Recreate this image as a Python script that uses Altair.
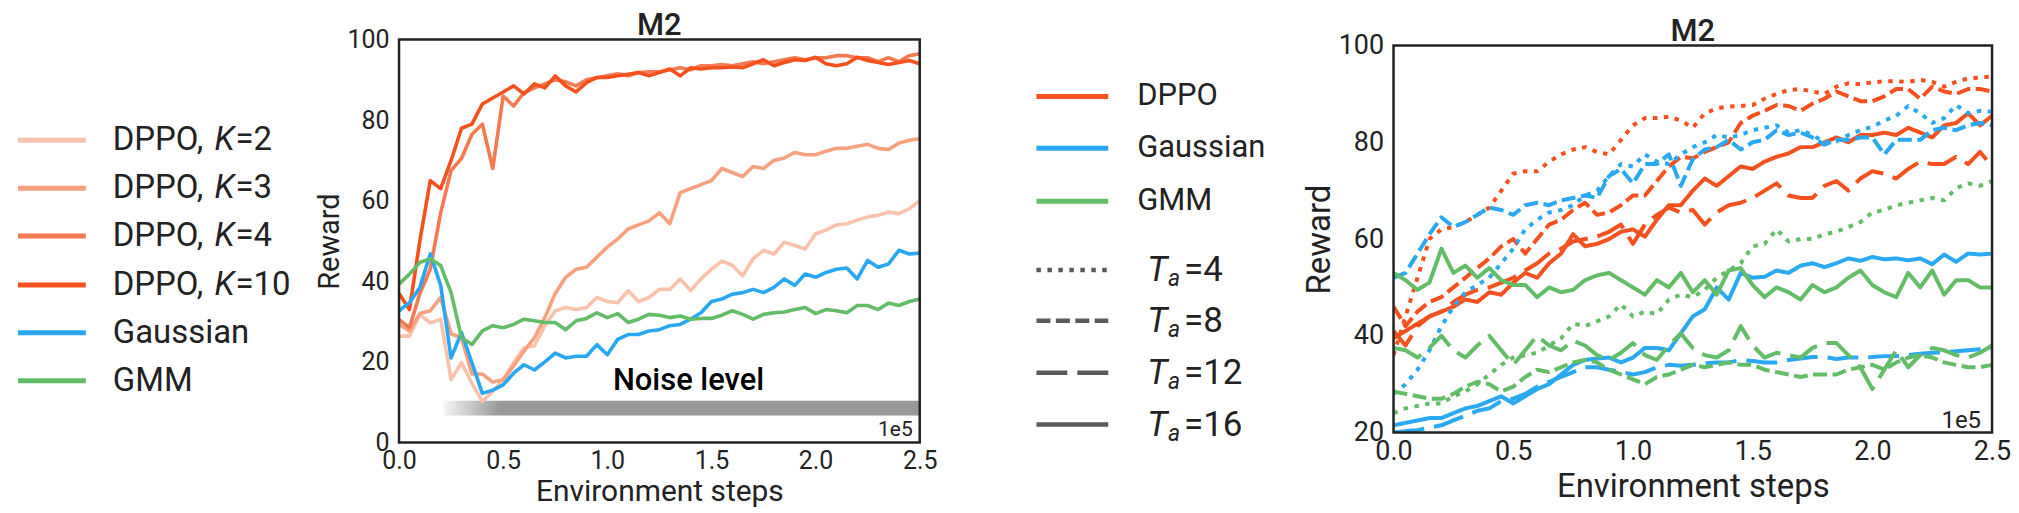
import altair as alt
import pandas as pd

# ---------------- data ----------------
STEPS = [round(0.05 * i, 2) for i in range(51)]
X_TICKS = [0.0, 0.5, 1.0, 1.5, 2.0, 2.5]
LEFT_Y_TICKS = [0, 20, 40, 60, 80, 100]
RIGHT_Y_TICKS = [20, 40, 60, 80, 100]
PANEL_TITLE = "M2"

LEFT_SERIES = ["DPPO, K=2", "DPPO, K=3", "DPPO, K=4", "DPPO, K=10", "Gaussian", "GMM"]
LEFT_COLORS = ["#fbc2ab", "#f9a07e", "#f47a52", "#f4511e", "#29a7f2", "#63bd67"]

K2 = [26.4, 26.4, 31.8, 29.7, 30.6, 15.6, 19.8, 14.7, 10.2, 12.7,
      15.6, 19.8, 23.5, 24, 29, 32.7, 33.5, 33, 33.5, 36,
      35, 34.7, 37.7, 35, 36, 38, 38, 40.6, 37.7, 40.6,
      43, 45, 44, 41.4, 45.6, 47.7, 46.8, 49.7, 48.9, 48,
      51.8, 52.7, 54, 54.3, 55.2, 56, 56.4, 57.2, 56.8, 58,
      60]
K3 = [29.3, 27.7, 32, 32.7, 36, 27, 26, 17, 17, 15,
      15.6, 19, 22.7, 26, 31, 37, 41, 43, 43.5, 46,
      48.5, 50.5, 53, 54, 55, 57, 54.3, 62, 63, 64,
      65, 68, 67, 66, 68.5, 68, 70, 70.6, 72, 71.4,
      71.4, 72.3, 73, 73, 73.5, 74, 73, 72.7, 74.3, 75,
      75.4]
K4 = [30.5, 28.5, 37, 43, 57, 67.5, 70.5, 76.5, 79, 68,
      86, 83.5, 86.8, 88, 89, 90, 89.5, 88.5, 90, 90.5,
      91, 91.5, 91, 91.8, 92, 92, 92.5, 93, 92.5, 93.5,
      93.5, 93.8, 93.5, 94, 94.5, 94, 94.5, 95, 95.5, 95,
      95.5, 95.5, 96, 96, 95.5, 95.5, 94.5, 95.5, 94.5, 96,
      96.5]
K10 = [37, 33, 50, 65, 63, 70, 78, 79, 84, 85.5,
       87, 88.5, 86.5, 89, 88, 91, 88.5, 87, 89.3, 90.6,
       90.6, 91, 91.4, 91.8, 91, 91.8, 92.7, 91, 93, 92.7,
       93, 93, 93.2, 93, 94, 95, 93.5, 94.3, 95, 94.8,
       95.6, 94, 93.5, 94, 95.6, 94.8, 94.3, 93.8, 94.3, 94.8,
       94]
GAUSS = [32.7, 34.7, 38.5, 46.8, 39, 21, 27.3, 19.8, 12.2, 13,
         14.3, 17.2, 19.3, 18, 20, 22.2, 21, 21.4, 21.4, 24.3,
         21.8, 25.6, 26.8, 26.8, 27.7, 28, 29, 29.3, 30.6, 32.2,
         35, 35.6, 36.8, 37.2, 38, 37.2, 38.5, 40.6, 39, 41.8,
         41, 42.2, 43, 43.3, 40.6, 45.2, 43.5, 44.3, 47.7, 46.8,
         47]
GMM = [39.3, 41.8, 44.7, 45.6, 43.9, 37.2, 26, 24.3, 27.7, 29,
       28.5, 29.3, 30.6, 30.2, 29.8, 29.8, 28, 30.2, 30.8, 32.2,
       31, 32, 29.8, 30.6, 31.8, 31.6, 31, 31.4, 30.6, 30.8,
       30.8, 31.6, 32.7, 31.8, 30.6, 31.8, 32.2, 32.4, 33, 33.5,
       32, 33, 32.7, 32.2, 34, 34, 33, 34.6, 34, 35,
       35.6]
LEFT_VALUES = [K2, K3, K4, K10, GAUSS, GMM]

METHODS = ["DPPO", "Gaussian", "GMM"]
METHOD_COLORS = ["#f4511e", "#2aa8f2", "#63bd67"]
TA_LABELS = ["4", "8", "12", "16"]

DPPO_T4 = [36, 44, 52, 60, 62, 62.5, 63.5, 65, 66.5, 70,
           73.5, 74, 74, 76, 77.5, 78.5, 79, 78, 77.5, 80.5,
           83.5, 85, 85, 85.3, 84.5, 83, 86, 87, 87.4, 87.5,
           87.7, 89, 90, 90.8, 91, 90.5, 90, 91.5, 92.2, 92,
           92.4, 92.6, 92.6, 92.5, 92.9, 92.5, 91.5, 92.5, 93.2, 93.4,
           93.6]
DPPO_T8 = [46, 42, 45, 47, 48, 50, 52, 54, 56, 58.5,
           60, 57, 60, 63, 64, 66, 67.5, 65, 65.5, 67,
           69, 69, 72, 75, 77, 76.7, 78, 79, 80, 84,
           85.5, 86.5, 87.7, 87.5, 86.5, 88, 89, 90.5, 89.5, 88.5,
           88.5, 89.5, 91, 91, 89, 91.5, 90.5, 90, 91, 91,
           90.5]
DPPO_T12 = [41, 38, 42, 44, 45, 47, 48.5, 49.5, 50, 51,
            52, 53.5, 55, 57, 58, 59.5, 60, 60.5, 61.5, 63,
            59, 63, 65, 66.5, 65.5, 66, 63, 65.5, 67, 67.5,
            68.5, 70, 71.5, 69, 68.5, 68.5, 71, 72, 70, 72.5,
            74, 73.5, 72.5, 74.5, 76, 75.5, 75.5, 77, 75.5, 78,
            75]
DPPO_T16 = [39.5, 41, 42.5, 44, 45, 46, 47.5, 47, 49, 48.5,
            51, 53, 52, 55, 57, 61, 58.5, 59, 60, 61.5,
            62, 60.5, 64, 67, 67, 70, 72.5, 71, 73, 75,
            74.5, 76, 77, 77.7, 79, 79, 80, 81, 80, 81.5,
            81.5, 82, 81.5, 83, 82, 81, 83.5, 84, 86, 83.5,
            85.5]
GAUSS_T4 = [28, 30, 33, 37, 42, 46, 49, 50.5, 52, 55,
            58, 62, 64, 65.5, 66, 67, 69, 70, 73, 75.5,
            75, 77.5, 76, 75.5, 77.5, 79, 80, 81.5, 81, 81.5,
            82.5, 83, 83.5, 82, 82.5, 81.5, 80, 80.2, 81.5, 82.5,
            83.2, 84.5, 85.5, 87.5, 86, 84, 85, 87.7, 86, 86.5,
            86.3]
GAUSS_T8 = [52, 53, 57, 61, 64.5, 62.5, 63.5, 65, 66.5, 66,
            65, 67, 67.5, 67, 68, 68.5, 69, 68.5, 73, 74.5,
            71.5, 75.5, 75.5, 77.5, 71, 76.5, 78.5, 79, 80.5, 78.5,
            80, 80.5, 82.5, 81.5, 82, 81, 79.5, 80.5, 80.5, 81,
            81, 77.5, 80.5, 80.5, 80.5, 82.5, 83, 82.5, 83.5, 84,
            83.5]
GAUSS_T12 = [20, 20.3, 20.5, 21, 21.5, 22.5, 23.5, 24.5, 25, 26.5,
             27, 28, 29.5, 30.5, 31.5, 32.5, 33.5, 33.5, 33, 32.5,
             32, 32.5, 33.5, 34, 33.8, 34, 34.3, 34.5, 34.5, 35,
             34.8, 34.5, 34.5, 35, 35.3, 35.6, 35.6, 35.2, 35.5, 35.5,
             35.6, 35.8, 35.8, 36, 36.3, 36.5, 36.6, 36.8, 37, 37.2,
             37.3]
GAUSS_T16 = [21.5, 22, 22.5, 23, 23, 24, 25, 25.5, 26.5, 27.5,
             26, 27.5, 29, 30, 32, 34, 35, 35.3, 35.5, 34.5,
             35.5, 37.5, 37.5, 37, 40.5, 44, 45.5, 50, 47.5, 53,
             52, 52.2, 53.5, 53, 54.5, 55, 54.2, 55, 56, 55.5,
             56.3, 55.8, 56, 55.6, 56, 54.8, 56.8, 55.3, 57, 56.8,
             57]
GMM_T4 = [24, 25, 25.5, 26, 26, 27.5, 28.5, 30, 32, 34,
          35.5, 36, 36.5, 38, 39.5, 42.5, 42, 43, 44, 46.5,
          44, 45, 44.5, 47.5, 48.5, 48, 49.5, 52, 53.5, 55,
          58.5, 59, 62, 59.5, 60, 60, 61, 61.5, 62.5, 63.5,
          65.5, 66, 67, 67.5, 68, 68.5, 68, 70.5, 71.5, 71,
          72]
GMM_T8 = [28.5, 28, 27.5, 27, 27, 28, 29.5, 30.5, 30, 28.5,
          29.5, 31.5, 33, 32.5, 33.5, 34.5, 35, 34.5, 33, 32,
          31, 30, 31.5, 32, 33, 34, 33.5, 34, 34.5, 34,
          34, 33, 32.5, 32, 31.5, 32, 32, 32, 33, 33.5,
          34, 33, 34.5, 35.5, 36, 35.5, 34.5, 34, 33.5, 33.5,
          34]
GMM_T12 = [37.5, 37, 35.5, 37.5, 40, 37, 35.5, 38, 40, 37,
           34, 37, 40, 38, 37, 39, 38, 36, 35, 36.5,
           38.5, 36, 35, 38, 40.5, 37.5, 36, 35.5, 37, 42,
           38, 35.5, 36.5, 36, 35.5, 37.5, 38.5, 38.5, 36, 33.5,
           29, 33, 37, 33.5, 36, 37.5, 37, 36, 35.5, 36.5,
           38]
GMM_T16 = [53, 51.5, 49.5, 51, 58, 53, 54.5, 52, 54, 51.5,
           50.5, 50.5, 48, 50, 49, 49.5, 51.5, 52.5, 53, 51.5,
           50, 48.5, 51.5, 50, 53, 49, 51.5, 48.5, 53.5, 54,
           50.5, 48, 50, 49, 47.5, 50.5, 49, 50, 52, 53.5,
           50.5, 49, 48, 53, 50, 53.5, 48.5, 51.5, 51.5, 50,
           50]
RIGHT_VALUES = {
    ("DPPO", "4"): DPPO_T4, ("DPPO", "8"): DPPO_T8,
    ("DPPO", "12"): DPPO_T12, ("DPPO", "16"): DPPO_T16,
    ("Gaussian", "4"): GAUSS_T4, ("Gaussian", "8"): GAUSS_T8,
    ("Gaussian", "12"): GAUSS_T12, ("Gaussian", "16"): GAUSS_T16,
    ("GMM", "4"): GMM_T4, ("GMM", "8"): GMM_T8,
    ("GMM", "12"): GMM_T12, ("GMM", "16"): GMM_T16,
}

NOISE_X = [0.215, 0.48, 2.5]      # ramp start, ramp end, bar end
NOISE_Y = [6.7, 10.4]
NOISE_LABEL_AT = [1.39, 13.1]

# ---------------- styles / layout ----------------
FONT = "Roboto"
INK = "#222222"
TA_DASHES = [[4.5, 6.5], [14, 5.5], [31, 10], [1, 0]]
LEG_GRAY = "#5a5a5a"

L_W, L_H = 522, 404
R_W, R_H = 600, 394
R_TOP = 6

LEG1_Y = [101, 149, 197, 246, 294, 342]
LEG1_LINE = (-382, -314)
LEG1_TEXT = -287
LEG1_K = -185
LEG1_EQ = -164

LEG2_Y = [57, 109, 162, 231, 282, 334, 386]
LEG2_LINE = (-358, -286)
LEG2_TEXT = -257
LEG2_T = -247
LEG2_A = -226
LEG2_EQ = -210

ONE = alt.Data(values=[{}])

# ---------------- tables ----------------
left_rows = []
for name, vals in zip(LEFT_SERIES, LEFT_VALUES):
    for s, v in zip(STEPS, vals):
        left_rows.append({"series": name, "step": s, "reward": v})
left_df = pd.DataFrame(left_rows)

right_rows = []
for (m, ta), vals in RIGHT_VALUES.items():
    for s, v in zip(STEPS, vals):
        right_rows.append({"method": m, "Ta": ta, "step": s, "reward": v})
right_df = pd.DataFrame(right_rows)


def title_mark(xpix, ypix):
    return alt.Chart(ONE).mark_text(
        font=FONT, fontSize=31, fontWeight=500, color=INK,
        align="center", baseline="alphabetic"
    ).encode(x=alt.value(xpix), y=alt.value(ypix), text=alt.value(PANEL_TITLE))


# ---------------- left panel ----------------
lx = alt.X("step:Q", scale=alt.Scale(domain=[0, 2.5], nice=False, zero=False),
           axis=alt.Axis(values=X_TICKS, format=".1f", labelFontSize=25, labelPadding=6,
                         title="Environment steps", titleFontSize=30, titlePadding=3))
ly = alt.Y("reward:Q", scale=alt.Scale(domain=[0, 100], nice=False),
           axis=alt.Axis(values=LEFT_Y_TICKS, labelFontSize=25, labelPadding=10,
                         title="Reward", titleFontSize=29, titlePadding=3))

ramp = (NOISE_X[1] - NOISE_X[0]) / (NOISE_X[2] - NOISE_X[0])
noise_bar = alt.Chart(ONE).mark_rect(
    fill=alt.Gradient(gradient="linear", x1=0, x2=1, y1=0, y2=0,
                      stops=[alt.GradientStop(color="#f4f4f4", offset=0),
                             alt.GradientStop(color="#999999", offset=ramp),
                             alt.GradientStop(color="#999999", offset=1)])
).encode(x=alt.datum(NOISE_X[0]), x2=alt.datum(NOISE_X[2]),
         y=alt.datum(NOISE_Y[0]), y2=alt.datum(NOISE_Y[1]))

noise_txt = alt.Chart(ONE).mark_text(
    font=FONT, fontSize=31, fontWeight=500, color="#000000",
    align="center", baseline="alphabetic"
).encode(x=alt.datum(NOISE_LABEL_AT[0]), y=alt.datum(NOISE_LABEL_AT[1]),
         text=alt.value("Noise level"))

left_lines = alt.Chart(left_df).mark_line(strokeWidth=3.6, strokeJoin="round").encode(
    x=lx, y=ly,
    color=alt.Color("series:N", scale=alt.Scale(domain=LEFT_SERIES, range=LEFT_COLORS), legend=None),
)

frame_l = alt.Chart(ONE).mark_rect(fillOpacity=0, stroke=INK, strokeWidth=2.5).encode(
    x=alt.datum(0.0), x2=alt.datum(2.5), y=alt.datum(0), y2=alt.datum(100))

exp_l = alt.Chart(ONE).mark_text(font=FONT, fontSize=21, color=INK, align="right",
                                 baseline="alphabetic", dx=-7, dy=-7).encode(
    x=alt.datum(2.5), y=alt.datum(0), text=alt.value("1e5"))

leg1 = []
for i, (name, col) in enumerate(zip(LEFT_SERIES, LEFT_COLORS)):
    yy = LEG1_Y[i]
    leg1.append(alt.Chart(ONE).mark_rule(strokeWidth=5, color=col, strokeCap="butt").encode(
        x=alt.value(LEG1_LINE[0]), x2=alt.value(LEG1_LINE[1]), y=alt.value(yy)))
    if name.startswith("DPPO"):
        base, kpart = name.split(", ")
        leg1.append(alt.Chart(ONE).mark_text(font=FONT, fontSize=33, color=INK, align="left",
                                             baseline="middle").encode(
            x=alt.value(LEG1_TEXT), y=alt.value(yy), text=alt.value(base + ",")))
        leg1.append(alt.Chart(ONE).mark_text(font=FONT, fontSize=33, color=INK, align="left",
                                             baseline="middle", fontStyle="italic").encode(
            x=alt.value(LEG1_K), y=alt.value(yy), text=alt.value("K")))
        leg1.append(alt.Chart(ONE).mark_text(font=FONT, fontSize=33, color=INK, align="left",
                                             baseline="middle").encode(
            x=alt.value(LEG1_EQ), y=alt.value(yy), text=alt.value(kpart[1:])))
    else:
        leg1.append(alt.Chart(ONE).mark_text(font=FONT, fontSize=33, color=INK, align="left",
                                             baseline="middle").encode(
            x=alt.value(LEG1_TEXT), y=alt.value(yy), text=alt.value(name)))

left = alt.layer(noise_bar, left_lines, noise_txt, frame_l, exp_l,
                 title_mark(L_W / 2, -5), *leg1).properties(width=L_W, height=L_H)

# ---------------- right panel ----------------
rx = alt.X("step:Q", scale=alt.Scale(domain=[0, 2.5], nice=False, zero=False),
           axis=alt.Axis(values=X_TICKS, format=".1f", labelFontSize=27, labelPadding=6,
                         title="Environment steps", titleFontSize=33, titlePadding=6))
ry = alt.Y("reward:Q", scale=alt.Scale(domain=[20, 100], range=[R_H, R_TOP], nice=False, zero=False),
           axis=alt.Axis(values=RIGHT_Y_TICKS, labelFontSize=27, labelPadding=10,
                         title="Reward", titleFontSize=33, titlePadding=2))

right_lines = alt.Chart(right_df).mark_line(strokeWidth=4, strokeJoin="round", clip=True).encode(
    x=rx, y=ry,
    color=alt.Color("method:N", scale=alt.Scale(domain=METHODS, range=METHOD_COLORS), legend=None),
    strokeDash=alt.StrokeDash("Ta:N", scale=alt.Scale(domain=TA_LABELS, range=TA_DASHES), legend=None),
)

frame_r = alt.Chart(ONE).mark_rect(fillOpacity=0, stroke=INK, strokeWidth=2.5).encode(
    x=alt.datum(0.0), x2=alt.datum(2.5), y=alt.datum(20), y2=alt.datum(100))

exp_r = alt.Chart(ONE).mark_text(font=FONT, fontSize=24, color=INK, align="right",
                                 baseline="alphabetic", dx=-11, dy=-5).encode(
    x=alt.datum(2.5), y=alt.datum(20), text=alt.value("1e5"))

leg2 = []
for i, (m, col) in enumerate(zip(METHODS, METHOD_COLORS)):
    yy = LEG2_Y[i]
    leg2.append(alt.Chart(ONE).mark_rule(strokeWidth=5, color=col, strokeCap="butt").encode(
        x=alt.value(LEG2_LINE[0]), x2=alt.value(LEG2_LINE[1]), y=alt.value(yy)))
    leg2.append(alt.Chart(ONE).mark_text(font=FONT, fontSize=31, color=INK, align="left",
                                         baseline="middle").encode(
        x=alt.value(LEG2_TEXT), y=alt.value(yy), text=alt.value(m)))
for j, (ta, dash) in enumerate(zip(TA_LABELS, TA_DASHES)):
    yy = LEG2_Y[3 + j]
    leg2.append(alt.Chart(ONE).mark_rule(strokeWidth=4.5, color=LEG_GRAY, strokeCap="butt",
                                         strokeDash=dash).encode(
        x=alt.value(LEG2_LINE[0]), x2=alt.value(LEG2_LINE[1]), y=alt.value(yy)))
    leg2.append(alt.Chart(ONE).mark_text(font=FONT, fontSize=35, color=INK, align="left",
                                         baseline="middle", fontStyle="italic").encode(
        x=alt.value(LEG2_T), y=alt.value(yy), text=alt.value("T")))
    leg2.append(alt.Chart(ONE).mark_text(font=FONT, fontSize=23, color=INK, align="left",
                                         baseline="middle", fontStyle="italic", dy=9).encode(
        x=alt.value(LEG2_A), y=alt.value(yy), text=alt.value("a")))
    leg2.append(alt.Chart(ONE).mark_text(font=FONT, fontSize=35, color=INK, align="left",
                                         baseline="middle").encode(
        x=alt.value(LEG2_EQ), y=alt.value(yy), text=alt.value("=" + ta)))

right = alt.layer(right_lines, frame_r, exp_r, title_mark(R_W / 2, R_TOP - 5),
                  *leg2).properties(width=R_W, height=R_H)

chart = alt.hconcat(left, right, spacing=96).resolve_scale(
    color="independent", strokeDash="independent"
).properties(
    padding={"left": 7, "top": 1, "right": 0, "bottom": 0}
).configure_view(stroke=None).configure_axis(
    labelFont=FONT, titleFont=FONT, labelColor=INK, titleColor=INK,
    ticks=False, tickSize=0, domain=False, grid=False, labelFlush=False,
    titleFontWeight="normal"
)

chart.save("out.html", embed_options={"renderer": "svg", "actions": False})
